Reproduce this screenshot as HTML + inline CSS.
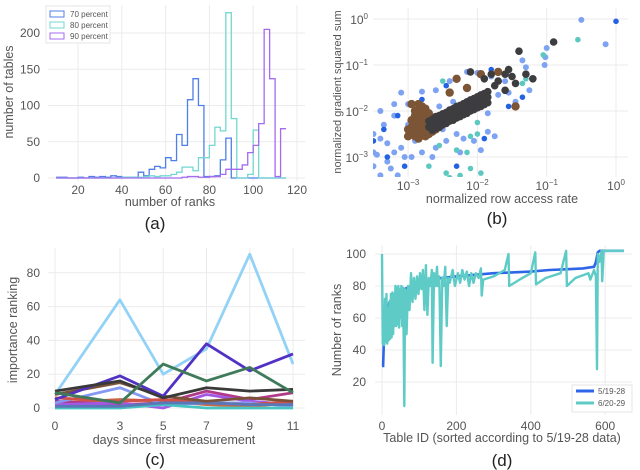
<!DOCTYPE html>
<html><head><meta charset="utf-8">
<style>
html,body{margin:0;padding:0;background:#fff;}
svg{display:block;font-family:"Liberation Sans",sans-serif;}
.tick{font-size:12px;fill:#555;}
.axt{font-size:12.5px;fill:#555;}
.cap{font-size:17px;fill:#222;}
.grid{stroke:#ebebeb;stroke-width:1;}
</style></head>
<body>
<svg id="fig" width="640" height="470" viewBox="0 0 640 470">
<g id="pa"></g>
<g id="pb"></g>
<g id="pc"></g>
<g id="pd"></g>
</svg>
<script>
// ---------- Panel A data ----------
const aEdges = [10,12.5,15,17.5,20,22.5,25,27.5,30,32.5,35,37.5,40,42.5,45,47.5,50,52.5,55,57.5,60,62.5,65,67.5,70,72.5,75,77.5,80,82.5,85,87.5,90,92.5,95,97.5,100,102.5,105,107.5,110,112.5,115];
const a70 = [1,1,0,0,1,0,2,1,2,1,3,2,1,1,1,8,3,12,16,14,28,24,60,45,108,137,100,2,2,3,25,55,0,0,0,0,0,0,0,0,0,0];
const a80 = [0,0,0,0,0,0,0,0,0,0,0,0,1,1,1,1,2,3,2,3,3,5,8,15,15,10,28,28,45,70,65,228,82,0,0,5,66,0,0,0,0,0];
const a90 = [0,0,0,0,0,0,0,0,0,0,0,0,0,0,0,0,0,0,0,0,0,0,0,1,2,2,1,1,2,2,5,12,12,12,18,35,45,75,205,137,2,68];
const aXTicks = [20,40,60,80,100,120];
const aYTicks = [0,50,100,150,200];
const aLegend = ["70 percent","80 percent","90 percent"];

// ---------- Panel B data (log10 values) ----------
const bLightBlue = [[-0.5,-0.02],[-1.0,-0.63],[-1.02,-0.83],[-1.03,-1.0],[-1.3,-1.05],[-1.35,-0.9],[-1.55,-1.6],[-1.6,-1.35],[-1.8,-1.25],[-1.7,-1.15],[-2.0,-1.17],[-2.15,-1.15],[-2.4,-1.35],[-2.6,-1.55],[-2.8,-1.58],[-3.0,-1.85],[-3.1,-1.6],[-3.2,-1.85],[-3.4,-2.0],[-3.6,-2.2],[-3.5,-2.5],[-3.4,-2.6],[-3.3,-2.7],[-3.55,-2.75],[-3.6,-3.0],[-3.45,-2.95],[-3.3,-3.1],[-3.2,-2.9],[-3.1,-2.8],[-3.05,-3.0],[-3.25,-3.25],[-3.5,-3.2],[-3.15,-3.4],[-3.6,-3.35],[-3.4,-3.4],[-2.95,-3.0],[-2.8,-2.9],[-2.6,-2.8],[-2.9,-2.65],[-2.65,-3.0],[-2.5,-2.4],[-2.3,-2.5],[-2.2,-2.6],[-2.45,-2.65],[-2.05,-2.65],[-1.95,-2.85],[-1.85,-2.45],[-1.75,-2.55],[-2.25,-2.9],[-3.2,-2.1],[-3.0,-2.3],[-2.85,-2.4],[-1.85,-2.05],[-1.7,-1.65],[-1.45,-1.8],[-1.25,-1.55],[-2.55,-1.9],[-2.35,-1.8],[-3.1,-3.5],[-0.15,-0.55],[-3.35,-2.3],[-3.5,-2.9]];
const bDarkBlue = [[0,-0.05],[-1.8,-1.1],[-2.45,-1.45],[-2.8,-1.75],[-3.15,-2.1],[-3.35,-2.4],[-3.5,-2.65],[-3.05,-3.2],[-3.3,-3.0],[-2.6,-2.2],[-1.55,-1.9],[-1.35,-1.7],[-1.9,-2.6],[-2.3,-3.2],[-1.6,-1.55],[-3.0,-2.5]];
const bTeal = [[-0.55,-0.45],[-1.05,-0.78],[-1.3,-1.3],[-1.35,-1.4],[-2.5,-1.35],[-2.0,-2.25],[-2.0,-2.5],[-2.1,-2.55],[-2.3,-2.85],[-2.55,-2.75],[-2.7,-3.2],[-2.45,-3.35],[-2.4,-3.45],[-2.25,-3.4],[-2.1,-3.25],[-1.95,-3.35],[-2.15,-2.9]];
const bBrown = [[-2.95,-2.5],[-2.95,-2.35],[-2.95,-2.2],[-2.9,-2.55],[-2.9,-2.4],[-2.9,-2.25],[-2.9,-2.1],[-2.85,-2.6],[-2.85,-2.45],[-2.85,-2.3],[-2.85,-2.15],[-2.85,-2.0],[-2.85,-1.85],[-2.8,-2.5],[-2.8,-2.35],[-2.8,-2.2],[-2.8,-2.05],[-2.8,-1.9],[-2.75,-2.55],[-2.75,-2.4],[-2.75,-2.25],[-2.75,-2.1],[-2.75,-1.95],[-2.7,-2.5],[-2.7,-2.35],[-2.7,-2.2],[-2.7,-2.05],[-2.65,-2.45],[-2.65,-2.3],[-2.65,-2.15],[-2.6,-2.4],[-2.6,-2.25],[-2.55,-2.35],[-3.0,-2.4],[-3.0,-2.55],[-2.95,-2.45],[-2.9,-2.3],[-2.85,-2.5],[-2.8,-2.3],[-2.75,-2.45],[-2.7,-2.3],[-2.9,-2.0],[-2.95,-1.85],[-1.7,-1.15],[-1.95,-1.2],[-2.3,-1.3],[-2.15,-1.5],[-1.45,-1.9],[-2.4,-1.6]];
const bDark = [[-0.9,-0.5],[-1.4,-0.7],[-1.55,-1.1],[-1.6,-1.2],[-1.3,-1.2],[-1.2,-1.3],[-1.5,-1.25],[-1.7,-1.35],[-1.8,-1.2],[-1.9,-1.3],[-2.1,-1.15],[-1.45,-1.4],[-1.6,-1.55],[-1.75,-1.45],[-2.65,-2.42],[-2.65,-2.3],[-2.65,-2.18],[-2.55,-2.35],[-2.55,-2.22],[-2.55,-2.1],[-2.45,-2.27],[-2.45,-2.15],[-2.45,-2.03],[-2.35,-2.2],[-2.35,-2.07],[-2.35,-1.95],[-2.25,-2.12],[-2.25,-2.0],[-2.25,-1.88],[-2.15,-2.05],[-2.15,-1.92],[-2.15,-1.8],[-2.05,-1.97],[-2.05,-1.85],[-2.05,-1.73],[-1.95,-1.9],[-1.95,-1.77],[-1.95,-1.65],[-1.85,-1.82],[-1.85,-1.7],[-1.85,-1.58],[-2.6,-2.25],[-2.5,-2.18],[-2.4,-2.1],[-2.3,-2.03],[-2.2,-1.96],[-2.1,-1.88],[-2.0,-1.81],[-1.9,-1.74],[-2.6,-2.38],[-2.5,-2.3],[-2.4,-2.22],[-2.3,-2.15],[-2.2,-2.08],[-2.1,-2.0],[-2.0,-1.93],[-1.9,-1.86],[-2.6,-2.12],[-2.5,-2.06],[-2.4,-1.98],[-2.3,-1.9],[-2.2,-1.84],[-2.1,-1.76],[-2.0,-1.69],[-1.9,-1.62],[-2.7,-2.35],[-2.7,-2.22]];
const bTicks = [-3,-2,-1,0];
const bYTicks = [-3,-2,-1,0];

// ---------- Panel C data ----------
const cDays = [0,3,5,7,9,11];
const cSeries = [
 {name:"series-light-blue",color:"#93d2f7",v:[8,64,20,35,91,26]},
 {name:"series-orange",color:"#c86a45",v:[3,5,4,2,1,3]},
 {name:"series-magenta",color:"#b03a88",v:[4,2,3,10,5,9]},
 {name:"series-violet",color:"#a458e6",v:[2,3,0,8,4,2]},
 {name:"series-periwinkle",color:"#8598f2",v:[3,12,2,3,3,1]},
 {name:"series-teal",color:"#45c4c2",v:[0,0,2,0,0,0]},
 {name:"series-red",color:"#d2504a",v:[6,4,5,3,2,4]},
 {name:"series-steel",color:"#5878b8",v:[1,1,3,3,2,2]},
 {name:"series-brown",color:"#7a5238",v:[8,15,7,4,6,4]},
 {name:"series-indigo",color:"#5232c4",v:[5,19,7,38,22,32]},
 {name:"series-black",color:"#3a3a3a",v:[10,16,6,12,10,11]},
 {name:"series-green",color:"#3f7a5a",v:[9,3,26,16,24,9]}
];
const cYTicks = [0,20,40,60,80];

// ---------- Panel D data ----------
const dBlueX = [0,3,5,10,20,40,60,90,120,160,200,250,300,350,400,450,500,540,570,575,580,585,650];
const dBlueY = [30,30,45,62,70,75,78,81,83,85,86,87,88,88.5,89,90,90.5,91,92,95,101,102,102];
const dTealX = [0,2,4,6,8,10,12,14,16,18,20,22,24,26,28,30,32,34,36,38,40,42,44,46,48,50,52,54,56,58,60,62,64,66,70,74,78,82,86,90,94,98,102,106,110,114,118,122,126,130,134,136,140,144,148,150,154,158,162,166,170,174,178,182,190,196,204,210,216,222,228,234,240,246,252,260,266,268,272,300,330,340,342,370,400,412,414,440,480,495,497,520,555,560,570,575,578,580,584,590,592,596,650];
const dTealY = [100,44,60,43,72,45,75,44,66,46,70,47,75,48,76,50,75,55,80,55,79,56,80,54,78,60,80,55,79,52,5,78,77,50,80,65,88,70,85,72,86,75,88,78,90,65,93,62,85,80,90,32,88,80,92,80,86,30,85,80,92,55,85,82,90,80,88,82,90,84,89,80,88,82,88,85,91,74,84,86,90,100,80,84,88,101,81,85,88,102,80,85,88,84,90,86,28,100,95,102,83,102,102];
const dXTicks = [0,200,400,600];
const dYTicks = [20,40,60,80,100];
const dLegend = ["5/19-28","6/20-29"];

const NS="http://www.w3.org/2000/svg";
function mk(parent,tag,attrs,text){const e=document.createElementNS(NS,tag);for(const k in attrs)e.setAttribute(k,attrs[k]);if(text!==undefined)e.textContent=text;parent.appendChild(e);return e;}

// ===== Panel A =====
(function(){
 const g=document.getElementById('pa');
 const X=v=>78+(v-20)*2.19, Y=v=>178-v*0.725;
 aXTicks.forEach(t=>{const l=mk(g,'line',{x1:X(t),x2:X(t),y1:5,y2:181,class:'grid'});
 
 
 const tx=mk(g,'text',{x:X(t),y:194,class:'tick','text-anchor':'middle'},t);
 
 });
 aYTicks.forEach(t=>{const l=mk(g,'line',{x1:48,x2:305,y1:Y(t),y2:Y(t),class:'grid'});
 
 
 const tx=mk(g,'text',{x:40,y:Y(t)+4,class:'tick','text-anchor':'end'},t);
 
 });
 const sets=[[a70,'#4f7fe8'],[a80,'#72d8d0'],[a90,'#a46af0']];
 sets.forEach(([arr,col],si)=>{
  let d='';
  arr.forEach((c,i)=>{const x0=X(aEdges[i]),x1=X(aEdges[i+1]),y=Y(c);d+=(i?'L':'M')+x0+','+y+'L'+x1+','+y;});
  const p=mk(g,'path',{d:d,fill:'none',stroke:col,'stroke-width':1.3});
  
  
 });
 const lg=mk(g,'g',{});
 
 
 mk(lg,'rect',{x:46,y:6,width:64,height:37,fill:'#fff',stroke:'#e4e4e4'});
 ['#4f7fe8','#72d8d0','#a46af0'].forEach((c,i)=>{
  mk(lg,'rect',{x:50,y:11+i*11,width:14,height:6,fill:'none',stroke:c});
  const t=mk(lg,'text',{x:70,y:17+i*11,'font-size':'8px',fill:'#555'},aLegend[i]);
  
  
 });
 const xl=mk(g,'text',{x:170,y:206,class:'axt','text-anchor':'middle'},'number of ranks');
 
 
 const yl=mk(g,'text',{x:0,y:0,class:'axt','text-anchor':'middle',transform:'translate(13,92) rotate(-90)'},'number of tables');
 
 
 const cp=mk(g,'text',{x:155,y:229,class:'cap','text-anchor':'middle'},'(a)');
 
 
})();

// ===== Panel B =====
(function(){
 const g=document.getElementById('pb');
 const X=v=>616+v*69.3, Y=v=>19-v*46;
 bTicks.forEach(t=>{const l=mk(g,'line',{x1:X(t),x2:X(t),y1:8,y2:177,class:'grid'});
 
 
 const tx=mk(g,'text',{x:X(t),y:190,class:'tick','text-anchor':'middle'});
 
 
 mk(tx,'tspan',{},'10');mk(tx,'tspan',{dy:-5,'font-size':'8px'},t===0?'0':'−'+(-t));});
 bYTicks.forEach(t=>{const l=mk(g,'line',{x1:373,x2:628,y1:Y(t),y2:Y(t),class:'grid'});
 
 
 const tx=mk(g,'text',{x:368,y:Y(t)+5,class:'tick','text-anchor':'end'});
 
 
 mk(tx,'tspan',{},'10');mk(tx,'tspan',{dy:-5,'font-size':'8px'},t===0?'0':'−'+(-t));});
 const clip=mk(g,'clipPath',{id:'bclip'});mk(clip,'rect',{x:373,y:8,width:255,height:169});
 const pts=mk(g,'g',{'clip-path':'url(#bclip)'});
 
 
 [[bLightBlue,'#7ea3f2',3,'b-point-light-blue'],[bDarkBlue,'#2462e4',2.8,'b-point-dark-blue'],[bTeal,'#5cc8c0',2.8,'b-point-teal'],[bBrown,'#7b5536',4.2,'b-point-brown'],[bDark,'#3d3d40',3.8,'b-point-dark']].forEach(([arr,col,r,nm])=>{
  arr.forEach(p=>{const c=mk(pts,'circle',{cx:X(p[0]),cy:Y(p[1]),r:r,fill:col});
  
  });
 });
 const xl=mk(g,'text',{x:502,y:203,class:'axt','text-anchor':'middle'},'normalized row access rate');
 
 
 const yl=mk(g,'text',{x:0,y:0,'font-size':'11px',fill:'#555','text-anchor':'middle',transform:'translate(341,92) rotate(-90)'},'normalized gradient squared sum');
 
 
 const cp=mk(g,'text',{x:497,y:224,class:'cap','text-anchor':'middle'},'(b)');
 
 
})();

// ===== Panel C =====
(function(){
 const g=document.getElementById('pc');
 const X=v=>55+v*21.64, Y=v=>408-v*1.69;
 cDays.forEach(t=>{const l=mk(g,'line',{x1:X(t),x2:X(t),y1:248,y2:410,class:'grid'});
 
 
 const tx=mk(g,'text',{x:X(t),y:430,class:'tick','text-anchor':'middle'},t);
 
 });
 cYTicks.forEach(t=>{const l=mk(g,'line',{x1:48,x2:305,y1:Y(t),y2:Y(t),class:'grid'});
 
 
 const tx=mk(g,'text',{x:40,y:Y(t)+4,class:'tick','text-anchor':'end'},t);
 
 });
 cSeries.forEach(s=>{
  const pl=mk(g,'polyline',{points:s.v.map((v,i)=>X(cDays[i])+','+Y(v)).join(' '),fill:'none',stroke:s.color,'stroke-width':2.8,'stroke-linejoin':'round'});
  
  
 });
 const xl=mk(g,'text',{x:174,y:444,class:'axt','text-anchor':'middle'},'days since first measurement');
 
 
 const yl=mk(g,'text',{x:0,y:0,class:'axt','text-anchor':'middle',transform:'translate(17,330) rotate(-90)'},'importance ranking');
 
 
 const cp=mk(g,'text',{x:155,y:465,class:'cap','text-anchor':'middle'},'(c)');
 
 
})();

// ===== Panel D =====
(function(){
 const g=document.getElementById('pd');
 const X=v=>382+v*0.372, Y=v=>382-(v-20)*1.6;
 dXTicks.forEach(t=>{const l=mk(g,'line',{x1:X(t),x2:X(t),y1:245,y2:415,class:'grid'});
 
 
 const tx=mk(g,'text',{x:X(t),y:430,class:'tick','text-anchor':'middle'},t);
 
 });
 dYTicks.forEach(t=>{const l=mk(g,'line',{x1:375,x2:632,y1:Y(t),y2:Y(t),class:'grid'});
 
 
 const tx=mk(g,'text',{x:366,y:Y(t)+4,class:'tick','text-anchor':'end'},t);
 
 });
 const b=mk(g,'polyline',{points:dBlueX.map((x,i)=>X(x)+','+Y(dBlueY[i])).join(' '),fill:'none',stroke:'#2f66e8','stroke-width':2.6});
 
 
 const t=mk(g,'polyline',{points:dTealX.map((x,i)=>X(x)+','+Y(dTealY[i])).join(' '),fill:'none',stroke:'#5ecbc6','stroke-width':2.4,'stroke-linejoin':'round'});
 
 
 const lg=mk(g,'g',{});
 
 
 mk(lg,'rect',{x:572,y:385,width:60,height:27,fill:'#fff',stroke:'#e6e6e6'});
 ['#2f66e8','#5ecbc6'].forEach((c,i)=>{
  mk(lg,'line',{x1:576,x2:594,y1:391+i*12,y2:391+i*12,stroke:c,'stroke-width':3});
  const tt=mk(lg,'text',{x:598,y:394+i*12,'font-size':'8px',fill:'#555'},dLegend[i]);
  
  
 });
 const xl=mk(g,'text',{x:502,y:442,class:'axt','text-anchor':'middle'},'Table ID (sorted according to 5/19-28 data)');
 
 
 const yl=mk(g,'text',{x:0,y:0,class:'axt','text-anchor':'middle',transform:'translate(341,330) rotate(-90)'},'Number of ranks');
 
 
 const cp=mk(g,'text',{x:502,y:466,class:'cap','text-anchor':'middle'},'(d)');
 
 
})();
</script>
</body></html>
